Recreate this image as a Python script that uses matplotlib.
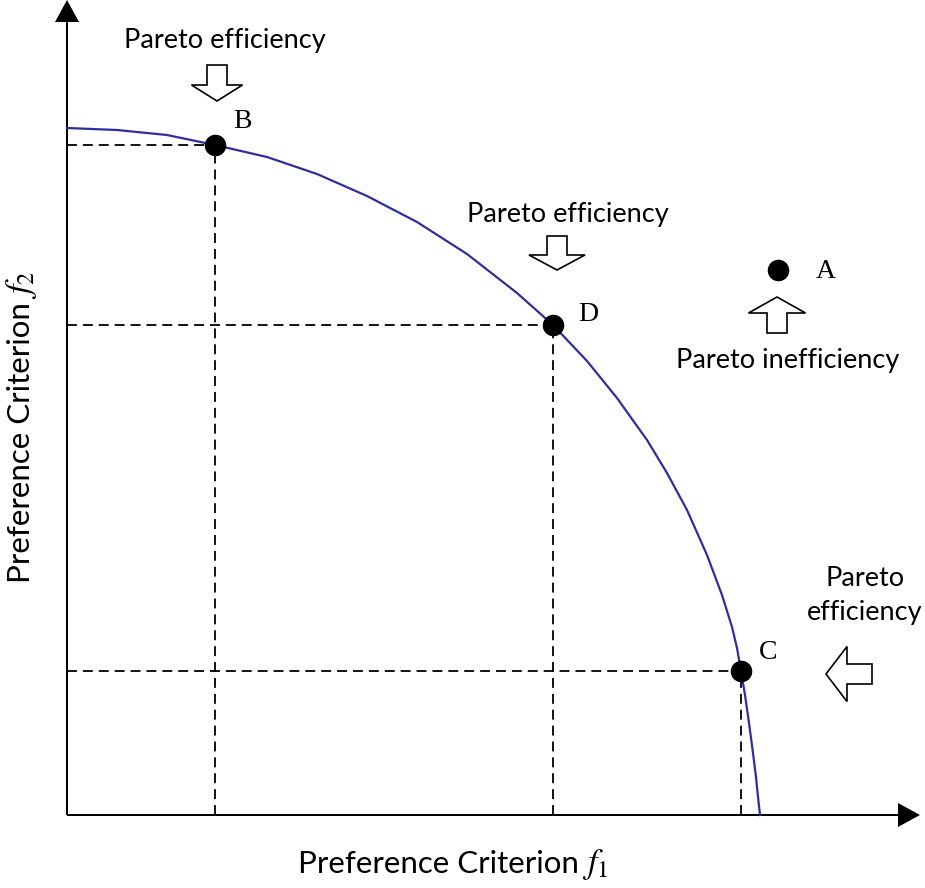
import matplotlib.pyplot as plt

plt.rcParams['font.family'] = ['Lato', 'DejaVu Sans']
plt.rcParams['mathtext.fontset'] = 'stix'

# Pareto front (f1, f2)
front_f1 = [0.00, 0.50, 1.00, 1.48, 2.00, 2.50, 3.00, 3.50, 4.00, 4.50, 4.86,
            5.20, 5.50, 5.80, 6.00, 6.20, 6.40, 6.55, 6.65, 6.70, 6.74,
            6.78, 6.82, 6.86, 6.89, 6.91, 6.93]
front_f2 = [6.87, 6.85, 6.80, 6.70, 6.58, 6.41, 6.19, 5.93, 5.61, 5.22, 4.90,
            4.54, 4.17, 3.75, 3.42, 3.05, 2.60, 2.20, 1.88, 1.67, 1.44,
            1.20, 0.92, 0.62, 0.38, 0.18, 0.00]

# labelled points
pt_names = ['A', 'B', 'C', 'D']
pt_f1 = [7.11, 1.48, 6.74, 4.86]
pt_f2 = [5.45, 6.70, 1.44, 4.90]

fig = plt.figure(figsize=(9.25, 8.88), dpi=100)
ax = fig.add_axes([0, 0, 1, 1])
ax.set_xlim(-0.67, 8.58)
ax.set_ylim(-0.73, 8.15)
ax.axis('off')

# axes with arrow heads
ax.arrow(0, 0, 8.53, 0, width=0.02, head_width=0.24, head_length=0.22,
         length_includes_head=True, fc='black', ec='black', lw=0)
ax.arrow(0, 0, 0, 8.15, width=0.02, head_width=0.24, head_length=0.22,
         length_includes_head=True, fc='black', ec='black', lw=0)

# dashed guides for front points
for name, x, y in zip(pt_names, pt_f1, pt_f2):
    if name == 'A':
        continue
    ax.plot([0, x], [y, y], color='black', lw=1.3, dashes=(5.5, 3.3))
    ax.plot([x, x], [0, y], color='black', lw=1.3, dashes=(5.5, 3.3))

ax.plot(front_f1, front_f2, color='#2e2e9e', lw=1.6, solid_joinstyle='round')
ax.plot(pt_f1, pt_f2, 'o', color='black', markersize=14.5, zorder=5)

# point letters
offs = {'A': (0.48, -0.02), 'B': (0.27, 0.23), 'C': (0.27, 0.19), 'D': (0.35, 0.11)}
for name, x, y in zip(pt_names, pt_f1, pt_f2):
    dx, dy = offs[name]
    ax.text(x + dx, y + dy, name, family='Liberation Serif', fontsize=20,
            ha='center', va='center')

# hollow block arrows
arrow_kw = dict(width=0.20, length_includes_head=True, fc='white',
                ec='black', lw=1.2, zorder=4)
ax.arrow(1.50, 7.50, 0, -0.36, head_width=0.51, head_length=0.16, **arrow_kw)
ax.arrow(4.90, 5.79, 0, -0.34, head_width=0.56, head_length=0.15, **arrow_kw)
ax.arrow(7.10, 4.82, 0, 0.36, head_width=0.57, head_length=0.16, **arrow_kw)
ax.arrow(8.05, 1.41, -0.46, 0, head_width=0.55, head_length=0.21, **arrow_kw)

# annotations
ax.text(1.58, 7.75, 'Pareto efficiency', fontsize=19.5, ha='center', va='center')
ax.text(5.01, 6.01, 'Pareto efficiency', fontsize=19.5, ha='center', va='center')
ax.text(7.21, 4.55, 'Pareto inefficiency', fontsize=19.5, ha='center', va='center')
ax.text(7.98, 2.20, 'Pareto\nefficiency', fontsize=19.5, ha='center', va='center',
        linespacing=1.45)

# axis titles: sans text followed by italic f with index
xl = ax.text(2.31, -0.58, 'Preference Criterion', fontsize=22.5,
             ha='left', va='baseline')
yl = ax.text(-0.37, 2.32, 'Preference Criterion', fontsize=22.5, rotation=90,
             rotation_mode='anchor', ha='left', va='baseline')
fig.canvas.draw()
r = fig.canvas.get_renderer()
inv = ax.transData.inverted()
bx = inv.transform(xl.get_window_extent(r))
by = inv.transform(yl.get_window_extent(r))
ax.text(bx[1, 0] + 0.03, -0.58, '$f_1$', fontsize=25, ha='left', va='baseline')
ax.text(-0.37, by[1, 1] + 0.03, '$f_2$', fontsize=25, rotation=90,
        rotation_mode='anchor', ha='left', va='baseline')

fig.savefig('out.png', dpi=100)
